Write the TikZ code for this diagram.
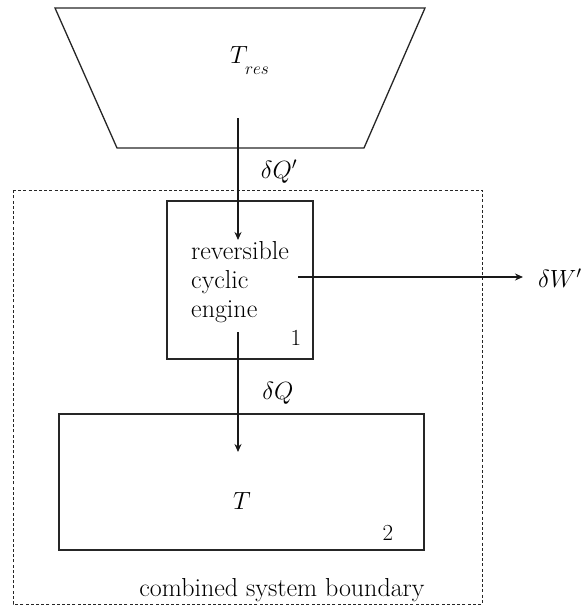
\documentclass[tikz,border=0pt]{standalone}
\usetikzlibrary{arrows.meta}
\begin{document}
\begin{tikzpicture}[x=1pt,y=-1pt,
  solid line/.style={line width=1.3pt,draw=black!85},
  flow/.style={line width=1.3pt,draw=black!90,-{Stealth[length=8pt,width=7pt]}},
  boundary/.style={line width=1pt,draw=black!85,dash pattern=on 3pt off 2.2pt},
  lbl/.style={font=\fontsize{26}{29}\selectfont,inner sep=0pt},
  num/.style={font=\fontsize{23}{26}\selectfont,inner sep=0pt}]
\useasboundingbox (0,0) rectangle (587,605);
% reservoir
\draw[solid line] (55,8) -- (425,8) -- (364,148) -- (117,148) -- cycle;
\node[inner sep=0pt,font=\fontsize{23}{26}\selectfont] (tres) at (239,55) {$T$};
\node[inner sep=0pt,font=\fontsize{16}{18}\selectfont] (tsub) at (257,71) {$res$};
\coordinate (qsrc) at (238,118);
% boundary
\draw[boundary] (13,190) -- (482,190) -- (482,604) -- (13,604) -- cycle;
% engine box
\draw[solid line] (167,201) rectangle (313,359);
\node[lbl,align=left,anchor=north west] (eng) at (191,241) {reversible\\cyclic\\engine};
\node[num] (one) at (296,338) {1};
\coordinate (qin) at (238,240);
\coordinate (wsrc) at (298,277);
\node[lbl,anchor=west] (w) at (538,278) {$\delta W'$};
\coordinate (wend) at (523,277);
\coordinate (qout) at (238,332);
% T box
\draw[solid line] (59,414) rectangle (424,550);
\node[inner sep=0pt,font=\fontsize{23}{26}\selectfont] (t) at (242,501) {$T$};
\node[num] (two) at (388,533) {2};
\coordinate (qend) at (238,452);
\node[lbl] (dq1) at (279,172) {$\delta Q'$};
\node[lbl] (dq) at (278,393) {$\delta Q$};
\node[lbl] (cb) at (282,590) {combined system boundary};
% flows
\draw[flow] (qsrc) -- (qin);
\draw[flow] (wsrc) -- (wend);
\draw[flow] (qout) -- (qend);
\end{tikzpicture}
\end{document}
